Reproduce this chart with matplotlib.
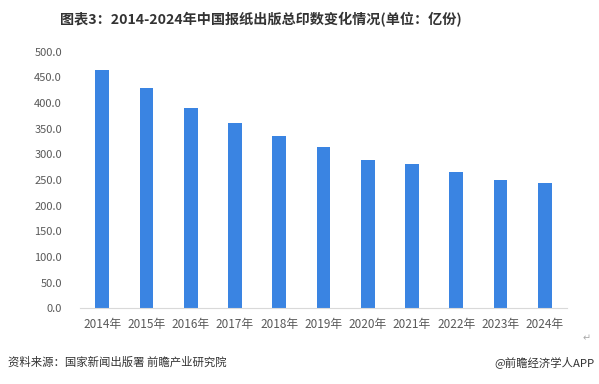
import matplotlib

matplotlib.use("Agg")
import matplotlib.pyplot as plt
import numpy as np

plt.rcParams["font.family"] = ["Noto Sans CJK SC", "DejaVu Sans"]

# 中国报纸出版总印数 (亿份)
years = ["2014年", "2015年", "2016年", "2017年", "2018年", "2019年",
         "2020年", "2021年", "2022年", "2023年", "2024年"]
prints = [464.0, 429.0, 390.0, 361.0, 336.0, 314.0, 289.0, 281.0, 266.0, 250.0, 244.0]
yticks = [0, 50, 100, 150, 200, 250, 300, 350, 400, 450, 500]

TITLE = "图表3：2014-2024年中国报纸出版总印数变化情况(单位：亿份)"
SOURCE = "资料来源：国家新闻出版署 前瞻产业研究院"
BRAND = "@前瞻经济学人APP"

fig = plt.figure(figsize=(5.99, 3.84), dpi=100)
ax = fig.add_axes([0.1336, 0.197, 0.813, 0.668])

x = np.arange(len(years))
ax.bar(x, prints, width=0.31, color="#3A84E2")
ax.set_xlim(-0.5, len(years) - 0.5)
ax.set_ylim(0, 500)
ax.set_yticks(yticks)
ax.set_yticklabels([f"{v:.1f}" for v in yticks])
ax.set_xticks(x)
ax.set_xticklabels(years)
ax.tick_params(axis="x", length=0, labelsize=8.5, colors="#595959", pad=7)
ax.tick_params(axis="y", length=0, labelsize=8, colors="#595959", pad=13)
for s in ("top", "right", "left"):
    ax.spines[s].set_visible(False)
ax.spines["bottom"].set_color("#D9D9D9")

fig.text(0.1, 0.948, TITLE, fontsize=10.2, fontweight="bold", color="#333333",
         va="center", ha="left")
fig.text(0.013, 0.057, SOURCE, fontsize=8.2, color="#333333", va="center")
fig.text(0.993, 0.057, BRAND, fontsize=8.2, color="#333333", va="center", ha="right")
fig.text(0.973, 0.12, "↵", fontsize=7, color="#AAAAAA", va="center", family="DejaVu Sans")

fig.savefig("out.png", dpi=100)
